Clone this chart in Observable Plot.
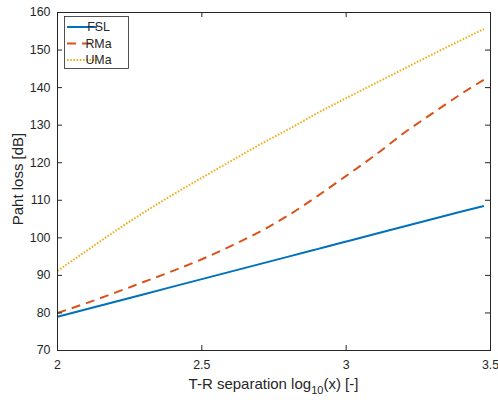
<!DOCTYPE html>
<html><head><meta charset="utf-8">
<script src="https://cdn.jsdelivr.net/npm/d3@7"></script>
<script src="https://cdn.jsdelivr.net/npm/@observablehq/plot@0.6"></script>
<style>body{margin:0;background:#fff;} svg{display:block}</style>
</head><body><div id="chart"></div>
<script>
// log10 of T-R separation
const xVals   = [2.0, 2.1, 2.2, 2.3, 2.4, 2.5, 2.6, 2.7, 2.8, 2.9, 3.0, 3.1, 3.2, 3.3, 3.4, 3.477];
const fslVals = [79.0, 81.0, 83.0, 85.0, 87.0, 89.0, 91.0, 93.0, 95.0, 97.0, 99.0, 101.0, 103.0, 105.0, 107.0, 108.5];
const rmaVals = [80.0, 82.6, 85.4, 88.3, 91.2, 94.3, 97.8, 101.6, 106.0, 111.1, 116.5, 122.0, 127.9, 133.2, 138.4, 142.1];
const umaVals = [91.2, 96.5, 101.8, 106.8, 111.5, 116.0, 120.4, 124.8, 128.9, 133.2, 137.2, 141.1, 145.0, 148.9, 152.7, 155.6];
const seriesNames = ["FSL", "RMa", "UMa"];
const xTicks = [2, 2.5, 3, 3.5];
const yTicks = [70, 80, 90, 100, 110, 120, 130, 140, 150, 160];
const colors = ["#0072BD", "#D95319", "#EDB120"];
const dashes = [null, "9,6", "1.6,1.6"];

const seriesVals = [fslVals, rmaVals, umaVals];
const rows = seriesNames.map((s, i) => xVals.map((x, j) => ({series: s, x, y: seriesVals[i][j]})));

const W = 498, H = 400, mL = 57, mR = 8, mT = 12, mB = 50;
const pw = W - mL - mR, ph = H - mT - mB, tk = 5;
const axisColor = "#262626";
const font = "'Liberation Sans', Arial, Helvetica, sans-serif";

const chart = Plot.plot({
  width: W, height: H,
  marginLeft: mL, marginRight: mR, marginTop: mT, marginBottom: mB,
  style: {fontFamily: font, fontSize: "12.4px", color: axisColor, background: "white", overflow: "visible"},
  x: {domain: [2, 3.5]},
  y: {domain: [70, 160]},
  marks: [
    ...rows.map((r, i) => Plot.line(r, {x: "x", y: "y", stroke: colors[i], strokeWidth: 2, strokeDasharray: dashes[i], strokeLinecap: "butt", curve: "monotone-x"})),
    Plot.frame({stroke: axisColor, strokeWidth: 1}),
    Plot.tickX(xTicks, {x: d => d, insetTop: ph - tk, stroke: axisColor}),
    Plot.tickX(xTicks, {x: d => d, insetBottom: ph - tk, stroke: axisColor}),
    Plot.tickY(yTicks, {y: d => d, insetRight: pw - tk, stroke: axisColor}),
    Plot.tickY(yTicks, {y: d => d, insetLeft: pw - tk, stroke: axisColor}),
    Plot.axisX({ticks: xTicks, tickSize: 0, tickPadding: 10, tickFormat: d => String(d), label: null}),
    Plot.axisY({ticks: yTicks, tickSize: 0, tickPadding: 7, tickFormat: d => String(d), label: null})
  ]
});

const svg = d3.select(chart);
// x axis label with subscript
const xl = svg.append("text")
  .attr("x", mL + pw / 2).attr("y", 389)
  .attr("text-anchor", "middle").attr("fill", axisColor)
  .style("font-size", "15px").style("font-family", font);
xl.append("tspan").text("T-R separation log");
xl.append("tspan").attr("dy", 5).style("font-size", "11px").text("10");
xl.append("tspan").attr("dy", -5).text("(x) [-]");
// y axis label
svg.append("text")
  .attr("transform", `translate(23,${mT + ph / 2 - 2}) rotate(-90)`)
  .attr("text-anchor", "middle").attr("fill", axisColor)
  .style("font-size", "15px").style("font-family", font)
  .text("Paht loss [dB]");
// legend
const lg = svg.append("g");
lg.append("rect").attr("x", 64.5).attr("y", 16.5).attr("width", 64).attr("height", 52)
  .attr("fill", "white").attr("stroke", axisColor).attr("stroke-width", 0.8);
seriesNames.forEach((s, i) => {
  const yy = 27 + i * 16.5;
  lg.append("line").attr("x1", 67).attr("x2", 97).attr("y1", yy).attr("y2", yy)
    .attr("stroke", colors[i]).attr("stroke-width", 2).attr("stroke-dasharray", dashes[i]);
  lg.append("text").attr("x", 98.5).attr("y", yy).attr("dy", "0.36em")
    .attr("fill", axisColor).style("font-size", "12.4px")
    .style("font-family", font).text(s);
});
document.getElementById("chart").appendChild(chart);
</script>
</body></html>
